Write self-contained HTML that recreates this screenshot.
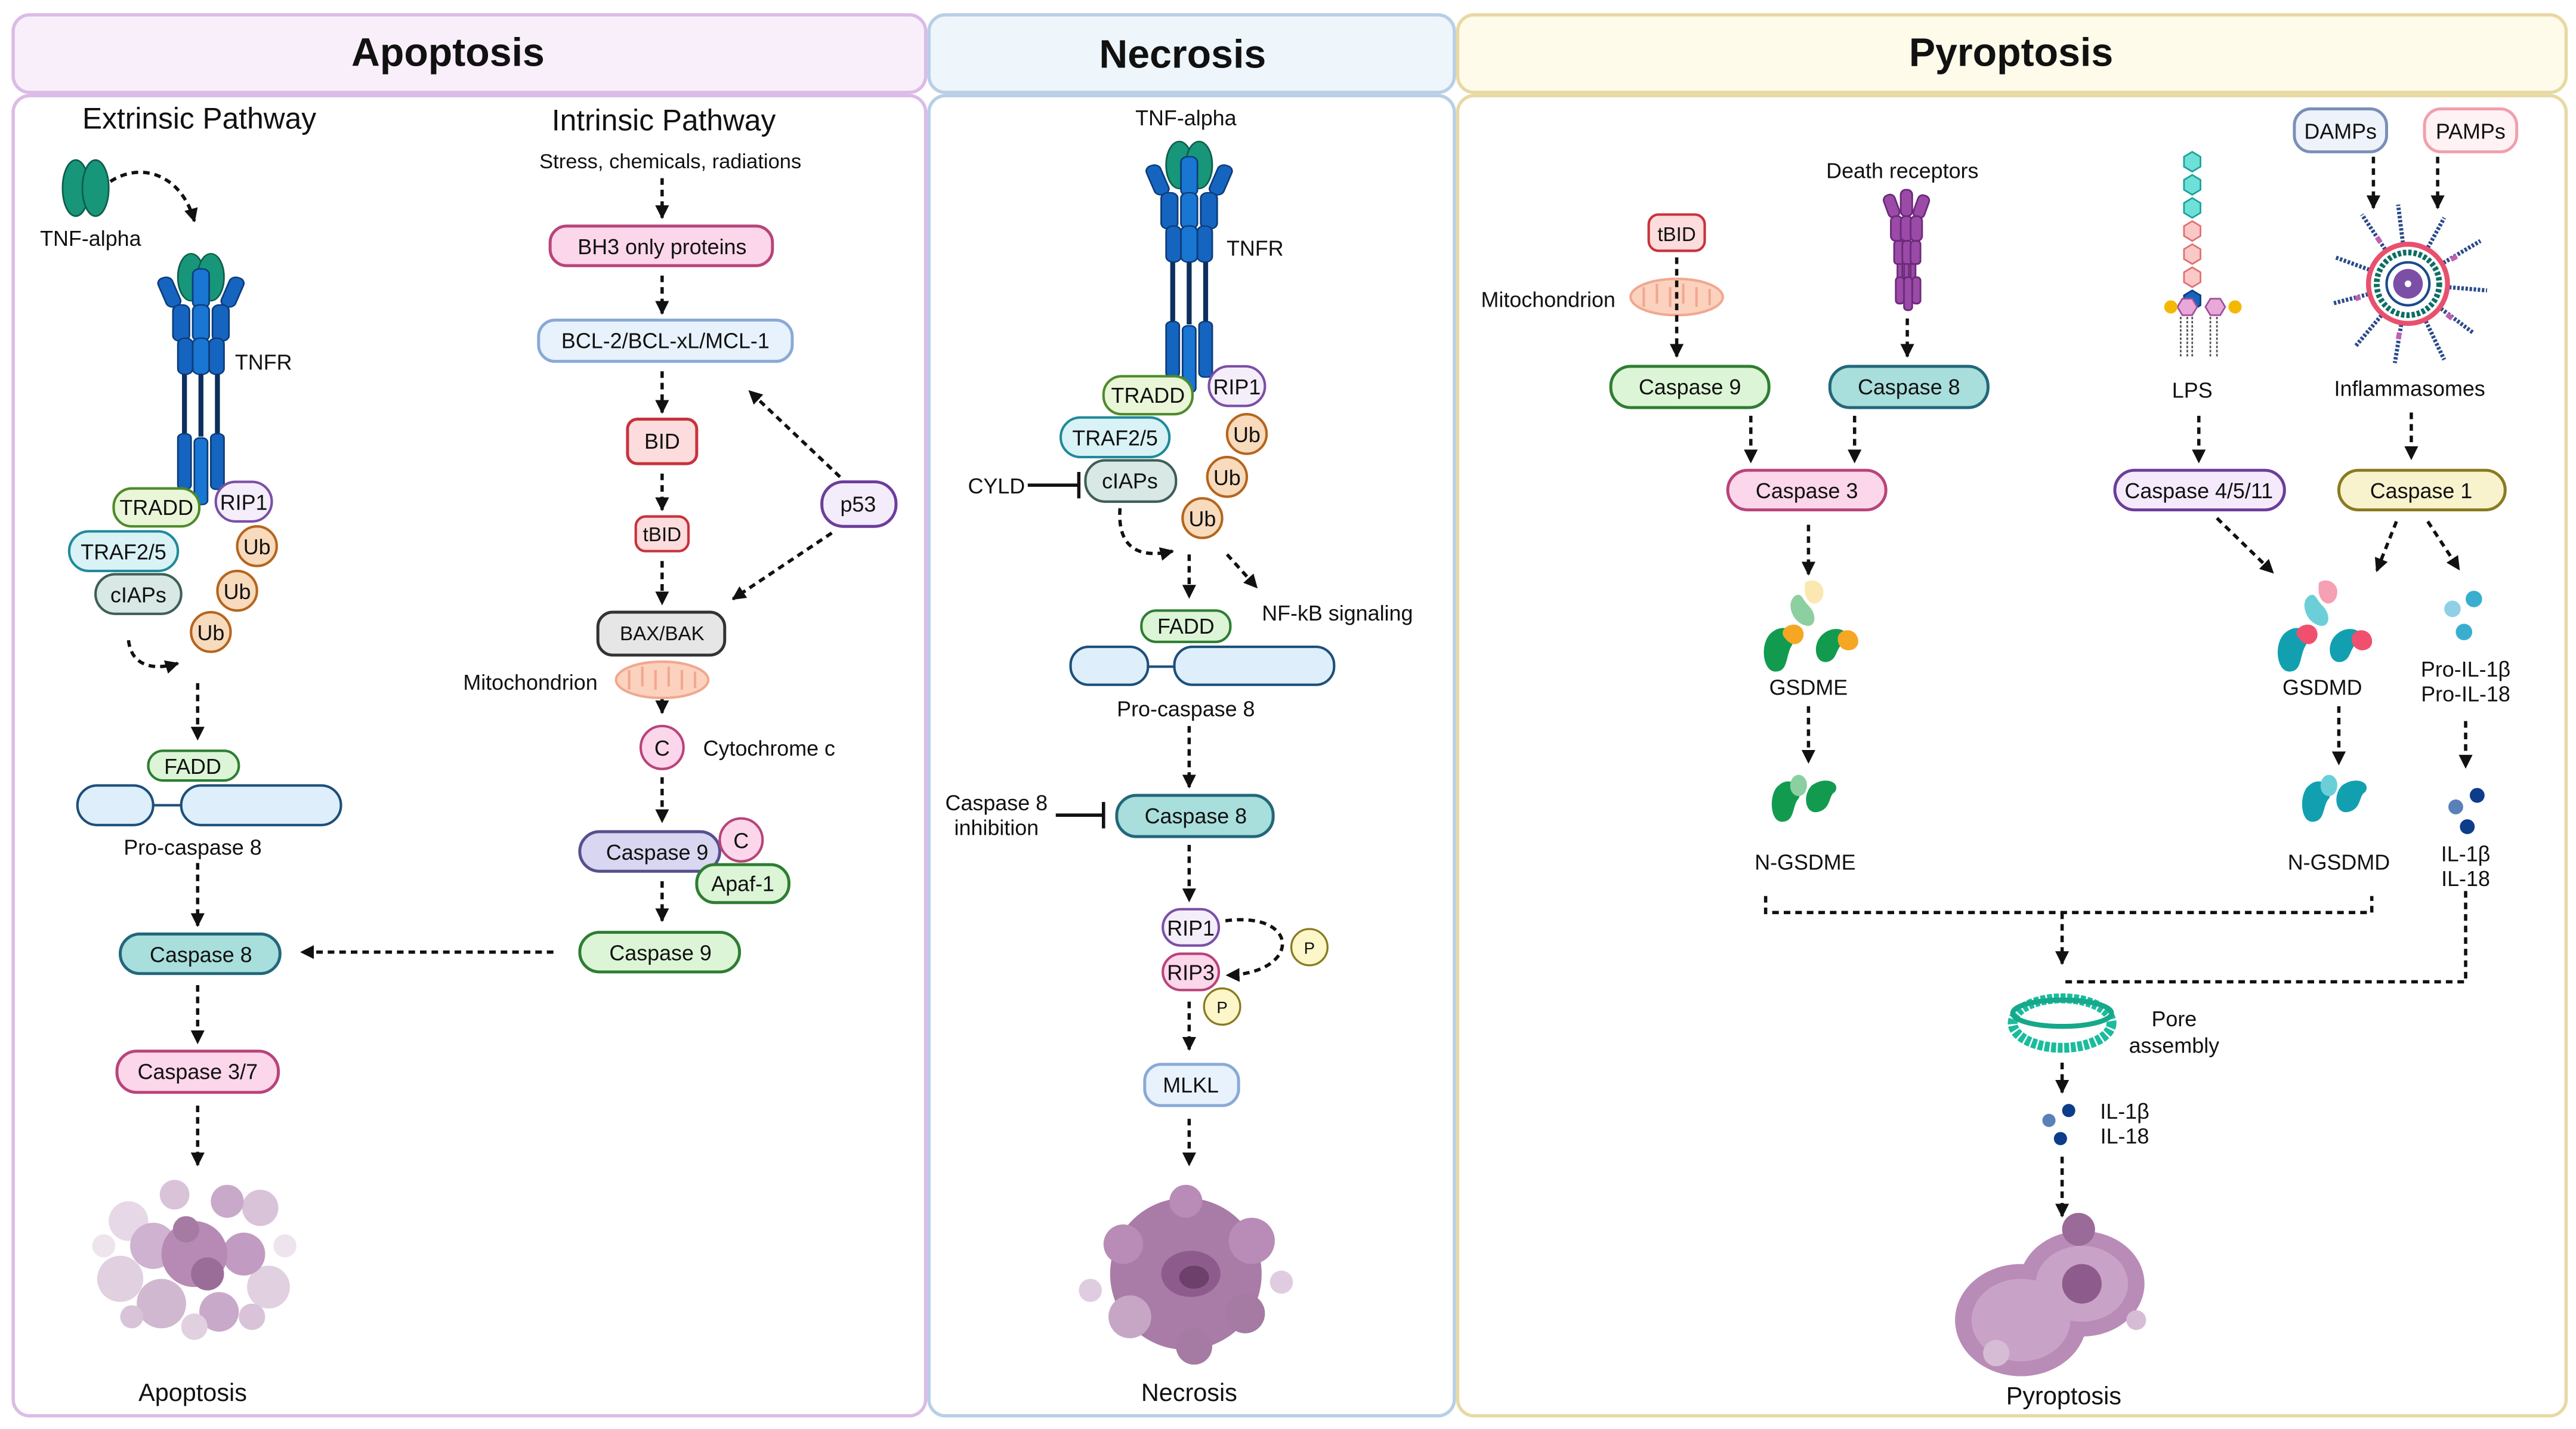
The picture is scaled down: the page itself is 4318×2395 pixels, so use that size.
<!DOCTYPE html>
<html><head><meta charset="utf-8"><style>
html,body{margin:0;padding:0;background:#fff;}
svg{display:block;}
text{font-family:"Liberation Sans",sans-serif;fill:#111;}
</style></head><body>
<svg width="4318" height="2395" viewBox="0 0 1564 866" preserveAspectRatio="none" xmlns="http://www.w3.org/2000/svg">
<defs>
<marker id="ah" viewBox="0 0 10 10" refX="9" refY="5" markerWidth="4.2" markerHeight="4.2" orient="auto"><path d="M0,0L10,5L0,10z" fill="#111"/></marker>
<g id="tnf">
<ellipse cx="-6" cy="0" rx="8" ry="17" fill="#17967a" stroke="#0d5e4c" stroke-width="1"/>
<ellipse cx="6" cy="0" rx="8" ry="17" fill="#17967a" stroke="#0d5e4c" stroke-width="1"/>
</g>
<g id="rec0">
<use href="#tnf" x="0" y="0"/>
<rect x="-24" y="0" width="9" height="22" rx="4" fill="#1565c0" stroke="#0d3c7a" transform="rotate(-20 -20 10)"/>
<rect x="15" y="0" width="9" height="22" rx="4" fill="#1565c0" stroke="#0d3c7a" transform="rotate(20 20 10)"/>
<rect x="-5" y="-6" width="10" height="28" rx="4" fill="#1976d2" stroke="#0d3c7a"/>
<rect x="-17" y="20" width="10" height="26" rx="4" fill="#1565c0" stroke="#0d3c7a"/>
<rect x="-5" y="20" width="10" height="26" rx="4" fill="#1976d2" stroke="#0d3c7a"/>
<rect x="7" y="20" width="10" height="26" rx="4" fill="#1565c0" stroke="#0d3c7a"/>
<rect x="-14" y="44" width="9" height="26" rx="4" fill="#1565c0" stroke="#0d3c7a"/>
<rect x="-5" y="44" width="10" height="26" rx="4" fill="#1976d2" stroke="#0d3c7a"/>
<rect x="5" y="44" width="9" height="26" rx="4" fill="#1565c0" stroke="#0d3c7a"/>
<line x1="-10" y1="70" x2="-10" y2="115" stroke="#0d2f5e" stroke-width="3"/>
<line x1="0" y1="70" x2="0" y2="115" stroke="#0d2f5e" stroke-width="3"/>
<line x1="10" y1="70" x2="10" y2="115" stroke="#0d2f5e" stroke-width="3"/>
<rect x="-14" y="113" width="8" height="40" rx="3" fill="#1565c0" stroke="#0d3c7a"/>
<rect x="-4" y="116" width="8" height="48" rx="3" fill="#1976d2" stroke="#0d3c7a"/>
<rect x="6" y="113" width="8" height="40" rx="3" fill="#1565c0" stroke="#0d3c7a"/>
</g>
<g id="rec"><use href="#rec0" transform="scale(1,0.84)"/></g>
<g id="mito">
<ellipse cx="0" cy="0" rx="28" ry="11" fill="#fcd2bf" stroke="#f0a890" stroke-width="1.5"/>
<path d="M-20,-6 v12 M-12,-8 v12 M-4,-6 v12 M4,-8 v12 M12,-6 v12 M20,-5 v10" stroke="#f0a890" stroke-width="1.5" fill="none"/>
</g>
</defs>

<!-- Panels -->
<rect x="8" y="9" width="554" height="47" rx="10" fill="#f9effb" stroke="#dcbbe7" stroke-width="2"/>
<rect x="8" y="58" width="554" height="800" rx="10" fill="#fff" stroke="#dcbbe7" stroke-width="2"/>
<rect x="564" y="9" width="319" height="47" rx="10" fill="#eef6fb" stroke="#b8cfe6" stroke-width="2"/>
<rect x="564" y="58" width="319" height="800" rx="10" fill="#fff" stroke="#b8cfe6" stroke-width="2"/>
<rect x="885" y="9" width="673" height="47" rx="10" fill="#fefbea" stroke="#e8d9a4" stroke-width="2"/>
<rect x="885" y="58" width="673" height="800" rx="10" fill="#fff" stroke="#e8d9a4" stroke-width="2"/>
<text x="272" y="40" font-size="24" font-weight="bold" text-anchor="middle">Apoptosis</text>
<text x="718" y="41" font-size="24" font-weight="bold" text-anchor="middle">Necrosis</text>
<text x="1221" y="40" font-size="24" font-weight="bold" text-anchor="middle">Pyroptosis</text>

<g font-size="13" text-anchor="middle">
<!-- ===== Apoptosis extrinsic ===== -->
<text x="121" y="78" font-size="18">Extrinsic Pathway</text>
<text x="403" y="79" font-size="18">Intrinsic Pathway</text>
<use href="#tnf" x="52" y="114"/>
<text x="55" y="149">TNF-alpha</text>
<path d="M67,110 C85,98 110,105 118,134" fill="none" stroke="#111" stroke-width="2" stroke-dasharray="4,3" marker-end="url(#ah)"/>
<use href="#rec" x="122" y="168"/>
<text x="160" y="224">TNFR</text>
<rect x="69" y="296" width="52" height="23" rx="11" fill="#e9f6d8" stroke="#4f8a2a" stroke-width="1.5"/><text x="95" y="312">TRADD</text>
<rect x="131" y="292" width="34" height="24" rx="12" fill="#f4eefb" stroke="#7b4fa6" stroke-width="1.5"/><text x="148" y="309">RIP1</text>
<rect x="42" y="322" width="66" height="24" rx="12" fill="#d9f2f6" stroke="#1f8a9a" stroke-width="1.5"/><text x="75" y="339">TRAF2/5</text>
<rect x="58" y="348" width="52" height="24" rx="12" fill="#d8e8e4" stroke="#3e5e58" stroke-width="1.5"/><text x="84" y="365">cIAPs</text>
<g fill="#f8dabd" stroke="#b5651d" stroke-width="1.5">
<circle cx="156" cy="331" r="12"/><circle cx="144" cy="358" r="12"/><circle cx="128" cy="383" r="12"/></g>
<text x="156" y="336">Ub</text><text x="144" y="363">Ub</text><text x="128" y="388">Ub</text>
<path d="M78,388 C80,405 95,406 108,402" fill="none" stroke="#111" stroke-width="2" stroke-dasharray="4,3" marker-end="url(#ah)"/>
<g stroke="#111" stroke-width="2" stroke-dasharray="4,3" marker-end="url(#ah)" fill="none">
<line x1="120" y1="414" x2="120" y2="448"/>
<line x1="120" y1="523" x2="120" y2="561"/>
<line x1="120" y1="597" x2="120" y2="632"/>
<line x1="120" y1="670" x2="120" y2="706"/>
<line x1="336" y1="577" x2="183" y2="577"/>
<line x1="402" y1="108" x2="402" y2="132"/>
<line x1="402" y1="167" x2="402" y2="190"/>
<line x1="402" y1="225" x2="402" y2="250"/>
<line x1="402" y1="287" x2="402" y2="309"/>
<line x1="402" y1="340" x2="402" y2="366"/>
<line x1="510" y1="289" x2="455" y2="237"/>
<line x1="505" y1="323" x2="445" y2="363"/>
<line x1="402" y1="402" x2="402" y2="432"/>
<line x1="402" y1="471" x2="402" y2="498"/>
<line x1="402" y1="534" x2="402" y2="558"/>
</g>
<rect x="90" y="455" width="55" height="18" rx="9" fill="#dcf5d6" stroke="#2e7d32" stroke-width="1.5"/><text x="117" y="469">FADD</text>
<rect x="47" y="476" width="46" height="24" rx="12" fill="#deeefa" stroke="#1d4f7a" stroke-width="1.5"/>
<line x1="93" y1="488" x2="110" y2="488" stroke="#1d4f7a" stroke-width="1.5"/>
<rect x="110" y="476" width="97" height="24" rx="12" fill="#deeefa" stroke="#1d4f7a" stroke-width="1.5"/>
<text x="117" y="518">Pro-caspase 8</text>
<rect x="73" y="566" width="97" height="24" rx="12" fill="#a8dedb" stroke="#22677a" stroke-width="1.8"/><text x="122" y="583">Caspase 8</text>
<rect x="71" y="637" width="98" height="25" rx="12" fill="#fcd6ea" stroke="#b8447a" stroke-width="1.8"/><text x="120" y="654">Caspase 3/7</text>
<!-- apoptotic blob: fragmented -->
<g transform="translate(118,760)">
<circle cx="-40" cy="-20" r="12" fill="#e6d8e6"/><circle cx="-45" cy="15" r="14" fill="#e0d0e0"/>
<circle cx="40" cy="-28" r="11" fill="#d9c3d9"/><circle cx="45" cy="20" r="13" fill="#e0d0e0"/>
<circle cx="-20" cy="30" r="15" fill="#d0b8d0"/><circle cx="15" cy="35" r="12" fill="#c9a9c9"/>
<circle cx="20" cy="-32" r="10" fill="#c9a9c9"/><circle cx="-12" cy="-36" r="9" fill="#d9c3d9"/>
<circle cx="30" cy="0" r="13" fill="#c19bc1"/><circle cx="-25" cy="-5" r="14" fill="#cfb2cf"/>
<circle cx="0" cy="0" r="20" fill="#b68ab4"/><circle cx="8" cy="12" r="10" fill="#9a6c98"/>
<circle cx="-5" cy="-15" r="8" fill="#a57aa3"/><circle cx="-55" cy="-5" r="7" fill="#eee4ee"/>
<circle cx="55" cy="-5" r="7" fill="#eee4ee"/><circle cx="0" cy="44" r="8" fill="#e0d0e0"/>
<circle cx="35" cy="38" r="8" fill="#d9c3d9"/><circle cx="-38" cy="38" r="7" fill="#d9c3d9"/>
</g>
<text x="117" y="849" font-size="15">Apoptosis</text>

<!-- intrinsic boxes -->
<text x="407" y="102" font-size="12.5">Stress, chemicals, radiations</text>
<rect x="334" y="137" width="135" height="24" rx="10" fill="#fcd6ea" stroke="#b8447a" stroke-width="1.8"/><text x="402" y="154">BH3 only proteins</text>
<rect x="327" y="194" width="154" height="25" rx="10" fill="#e8f2fc" stroke="#8aa9d6" stroke-width="1.8"/><text x="404" y="211">BCL-2/BCL-xL/MCL-1</text>
<rect x="381" y="254" width="42" height="27" rx="6" fill="#fcdcdc" stroke="#c8323c" stroke-width="1.8"/><text x="402" y="272">BID</text>
<rect x="386" y="313" width="32" height="21" rx="6" fill="#fcdcdc" stroke="#c8323c" stroke-width="1.5"/><text x="402" y="328" font-size="12">tBID</text>
<rect x="499" y="292" width="45" height="27" rx="13" fill="#f3ecfa" stroke="#6c3d9a" stroke-width="1.8"/><text x="521" y="310">p53</text>
<rect x="363" y="371" width="77" height="26" rx="9" fill="#e6e6e6" stroke="#333" stroke-width="1.8"/><text x="402" y="388" font-size="12">BAX/BAK</text>
<use href="#mito" x="402" y="412"/>
<text x="322" y="418">Mitochondrion</text>
<circle cx="402" cy="453" r="13" fill="#fcd6ea" stroke="#b8447a" stroke-width="1.5"/><text x="402" y="458">C</text>
<text x="467" y="458">Cytochrome c</text>
<rect x="352" y="504" width="85" height="24" rx="12" fill="#d8d6f0" stroke="#55508e" stroke-width="1.8"/><text x="399" y="521">Caspase 9</text>
<rect x="423" y="524" width="56" height="23" rx="11" fill="#dcf5d6" stroke="#2e7d32" stroke-width="1.8"/><text x="451" y="540">Apaf-1</text>
<circle cx="450" cy="509" r="13" fill="#fcd6ea" stroke="#b8447a" stroke-width="1.5"/><text x="450" y="514">C</text>
<rect x="352" y="565" width="97" height="24" rx="12" fill="#dcf5d6" stroke="#2e7d32" stroke-width="1.8"/><text x="401" y="582">Caspase 9</text>

<!-- ===== Necrosis ===== -->
<text x="720" y="76">TNF-alpha</text>
<use href="#rec" x="722" y="100"/>
<text x="762" y="155">TNFR</text>
<rect x="670" y="228" width="54" height="23" rx="11" fill="#e9f6d8" stroke="#4f8a2a" stroke-width="1.5"/><text x="697" y="244">TRADD</text>
<rect x="734" y="222" width="34" height="24" rx="12" fill="#f4eefb" stroke="#7b4fa6" stroke-width="1.5"/><text x="751" y="239">RIP1</text>
<rect x="644" y="253" width="66" height="24" rx="12" fill="#d9f2f6" stroke="#1f8a9a" stroke-width="1.5"/><text x="677" y="270">TRAF2/5</text>
<rect x="659" y="279" width="55" height="25" rx="12" fill="#d8e8e4" stroke="#3e5e58" stroke-width="1.5"/><text x="686" y="296">cIAPs</text>
<g fill="#f8dabd" stroke="#b5651d" stroke-width="1.5">
<circle cx="757" cy="263" r="12"/><circle cx="745" cy="289" r="12"/><circle cx="730" cy="314" r="12"/></g>
<text x="757" y="268">Ub</text><text x="745" y="294">Ub</text><text x="730" y="319">Ub</text>
<text x="605" y="299">CYLD</text>
<line x1="624" y1="294" x2="655" y2="294" stroke="#111" stroke-width="2"/><line x1="655" y1="286" x2="655" y2="302" stroke="#111" stroke-width="2"/>
<g stroke="#111" stroke-width="2" stroke-dasharray="4,3" marker-end="url(#ah)" fill="none">
<path d="M680,308 C678,335 695,338 712,334"/>
<line x1="722" y1="336" x2="722" y2="362"/>
<line x1="745" y1="336" x2="763" y2="356"/>
<line x1="722" y1="440" x2="722" y2="477"/>
<line x1="722" y1="512" x2="722" y2="546"/>
<path d="M744,558 C790,552 790,590 745,591"/>
<line x1="722" y1="607" x2="722" y2="636"/>
<line x1="722" y1="678" x2="722" y2="706"/>
</g>
<text x="812" y="376">NF-kB signaling</text>
<rect x="693" y="370" width="54" height="19" rx="9" fill="#dcf5d6" stroke="#2e7d32" stroke-width="1.5"/><text x="720" y="384">FADD</text>
<rect x="650" y="392" width="47" height="23" rx="11" fill="#deeefa" stroke="#1d4f7a" stroke-width="1.5"/>
<line x1="697" y1="404" x2="713" y2="404" stroke="#1d4f7a" stroke-width="1.5"/>
<rect x="713" y="392" width="97" height="23" rx="11" fill="#deeefa" stroke="#1d4f7a" stroke-width="1.5"/>
<text x="720" y="434">Pro-caspase 8</text>
<text x="605" y="491">Caspase 8</text><text x="605" y="506">inhibition</text>
<line x1="641" y1="494" x2="670" y2="494" stroke="#111" stroke-width="2"/><line x1="670" y1="486" x2="670" y2="502" stroke="#111" stroke-width="2"/>
<rect x="678" y="482" width="95" height="25" rx="12" fill="#a8dedb" stroke="#22677a" stroke-width="1.8"/><text x="726" y="499">Caspase 8</text>
<rect x="706" y="551" width="34" height="22" rx="11" fill="#f4eefb" stroke="#7b4fa6" stroke-width="1.5"/><text x="723" y="567">RIP1</text>
<rect x="706" y="578" width="34" height="22" rx="11" fill="#fcd6ea" stroke="#b8447a" stroke-width="1.5"/><text x="723" y="594">RIP3</text>
<circle cx="795" cy="574" r="11" fill="#fcf6c8" stroke="#8a7a20" stroke-width="1.2"/><text x="795" y="578" font-size="10">P</text>
<circle cx="742" cy="610" r="11" fill="#fcf6c8" stroke="#8a7a20" stroke-width="1.2"/><text x="742" y="614" font-size="10">P</text>
<rect x="695" y="645" width="57" height="25" rx="10" fill="#e8f2fc" stroke="#8aa9d6" stroke-width="1.8"/><text x="723" y="662">MLKL</text>
<g transform="translate(720,772)">
<circle cx="0" cy="0" r="46" fill="#a97ba7"/>
<circle cx="-38" cy="-18" r="12" fill="#b98bb7"/><circle cx="40" cy="-20" r="14" fill="#b98bb7"/>
<circle cx="36" cy="24" r="12" fill="#a57aa3"/><circle cx="-34" cy="26" r="13" fill="#c7a6c5"/>
<circle cx="0" cy="-44" r="10" fill="#b98bb7"/><circle cx="5" cy="44" r="11" fill="#a57aa3"/>
<circle cx="-58" cy="10" r="7" fill="#e0cce0"/><circle cx="58" cy="5" r="7" fill="#e0cce0"/>
<ellipse cx="3" cy="0" rx="18" ry="14" fill="#8e5c8c"/>
<ellipse cx="5" cy="2" rx="9" ry="7" fill="#6d3f6b"/>
</g>
<text x="722" y="849" font-size="15">Necrosis</text>

<!-- ===== Pyroptosis ===== -->
<rect x="1001" y="130" width="34" height="22" rx="6" fill="#fcdcdc" stroke="#c8323c" stroke-width="1.5"/><text x="1018" y="146" font-size="12">tBID</text>
<use href="#mito" x="1018" y="180"/>
<text x="940" y="186">Mitochondrion</text>
<text x="1155" y="108">Death receptors</text>
<g fill="#9b4aa8" stroke="#6a2a78" stroke-width="1">
<rect x="1154" y="115" width="7" height="16" rx="3"/><rect x="1145" y="118" width="7" height="14" rx="3" transform="rotate(-20 1148 125)"/><rect x="1163" y="118" width="7" height="14" rx="3" transform="rotate(20 1166 125)"/>
<rect x="1148" y="131" width="7" height="15" rx="3"/><rect x="1154" y="131" width="7" height="15" rx="3"/><rect x="1160" y="131" width="7" height="15" rx="3"/>
<rect x="1150" y="146" width="6" height="14" rx="2"/><rect x="1155" y="146" width="6" height="14" rx="2"/><rect x="1160" y="146" width="6" height="14" rx="2"/>
<rect x="1152" y="160" width="3" height="10"/><rect x="1156" y="160" width="3" height="10"/><rect x="1160" y="160" width="3" height="10"/>
<rect x="1151" y="168" width="5" height="16" rx="2"/><rect x="1156" y="168" width="5" height="20" rx="2"/><rect x="1161" y="168" width="5" height="16" rx="2"/>
</g>
<g stroke="#111" stroke-width="2" stroke-dasharray="4,3" marker-end="url(#ah)" fill="none">
<line x1="1018" y1="156" x2="1018" y2="216"/>
<line x1="1158" y1="193" x2="1158" y2="216"/>
<line x1="1063" y1="252" x2="1063" y2="280"/>
<line x1="1126" y1="252" x2="1126" y2="280"/>
<line x1="1098" y1="318" x2="1098" y2="348"/>
<line x1="1098" y1="428" x2="1098" y2="462"/>
<line x1="1335" y1="252" x2="1335" y2="280"/>
<line x1="1441" y1="95" x2="1441" y2="126"/>
<line x1="1480" y1="95" x2="1480" y2="126"/>
<line x1="1464" y1="250" x2="1464" y2="278"/>
<line x1="1346" y1="314" x2="1380" y2="347"/>
<line x1="1455" y1="316" x2="1443" y2="346"/>
<line x1="1474" y1="316" x2="1493" y2="345"/>
<line x1="1420" y1="428" x2="1420" y2="463"/>
<line x1="1497" y1="437" x2="1497" y2="465"/>
<line x1="1252" y1="553" x2="1252" y2="584"/>
<line x1="1252" y1="644" x2="1252" y2="662"/>
<line x1="1252" y1="701" x2="1252" y2="737"/>
</g>
<path d="M1072,543 V553 H1440 V543 M1497,540 V595 H1252" fill="none" stroke="#111" stroke-width="2" stroke-dasharray="4,3"/>
<rect x="978" y="222" width="96" height="25" rx="12" fill="#dcf5d6" stroke="#2e7d32" stroke-width="1.8"/><text x="1026" y="239">Caspase 9</text>
<rect x="1111" y="222" width="96" height="25" rx="12" fill="#a8dedb" stroke="#22677a" stroke-width="1.8"/><text x="1159" y="239">Caspase 8</text>
<rect x="1049" y="285" width="96" height="24" rx="12" fill="#fcd6ea" stroke="#b8447a" stroke-width="1.8"/><text x="1097" y="302">Caspase 3</text>
<g transform="translate(1098,385)">
<path d="M-22,-2 c-8,6 -6,24 2,24 c8,0 6,-10 10,-16 c4,-8 -4,-14 -12,-8z" fill="#129b4f"/>
<path d="M-14,2 c-6,-6 6,-12 10,-6 c4,6 -4,14 -10,6z" fill="#f5a623"/>
<path d="M8,0 c-6,6 -4,18 4,16 c6,-2 4,-8 10,-12 c6,-6 -6,-12 -14,-4z" fill="#129b4f"/>
<path d="M18,4 c-2,-8 10,-10 12,-2 c2,8 -10,10 -12,2z" fill="#f5a623"/>
<path d="M-8,-24 c-6,4 -2,16 6,18 c6,2 8,-6 2,-12 c-4,-4 -4,-8 -8,-6z" fill="#8ccfa0"/>
<path d="M-2,-32 c6,-4 14,2 10,10 c-4,6 -12,2 -10,-10z" fill="#fbe8b0"/>
</g>
<text x="1098" y="421" fill="#333">GSDME</text>
<path d="M1080,476 c-6,4 -6,22 2,22 c8,0 6,-10 10,-14 c4,-8 -6,-14 -12,-8z M1100,476 c-6,6 -4,18 4,16 c8,-2 6,-10 10,-12 c4,-6 -6,-10 -14,-4z" fill="#129b4f"/>
<path d="M1088,472 c4,-6 12,0 8,8 c-4,6 -12,0 -8,-8z" fill="#8ccfa0"/>
<text x="1096" y="527" fill="#333">N-GSDME</text>
<!-- LPS -->
<g stroke-width="1">
<polygon points="1331,92 1336,95 1336,101 1331,104 1326,101 1326,95" fill="#6fe0d8" stroke="#1aa39a"/>
<polygon points="1331,106 1336,109 1336,115 1331,118 1326,115 1326,109" fill="#6fe0d8" stroke="#1aa39a"/>
<polygon points="1331,120 1336,123 1336,129 1331,132 1326,129 1326,123" fill="#6fe0d8" stroke="#1aa39a"/>
<polygon points="1331,134 1336,137 1336,143 1331,146 1326,143 1326,137" fill="#fbc8c8" stroke="#e07070"/>
<polygon points="1331,148 1336,151 1336,157 1331,160 1326,157 1326,151" fill="#fbc8c8" stroke="#e07070"/>
<polygon points="1331,162 1336,165 1336,171 1331,174 1326,171 1326,165" fill="#fbc8c8" stroke="#e07070"/>
<polygon points="1331,166 1336,169 1336,175 1331,178 1326,175 1326,169" fill="#1565c0" stroke="#0d3c7a" transform="translate(0,10)"/>
<polygon points="1325,181 1331,181 1334,186 1331,191 1325,191 1322,186" fill="#e8a8d8" stroke="#a0509a"/>
<polygon points="1342,181 1348,181 1351,186 1348,191 1342,191 1339,186" fill="#e8a8d8" stroke="#a0509a"/>
<circle cx="1318" cy="186" r="4" fill="#f5b800"/><circle cx="1357" cy="186" r="4" fill="#f5b800"/>
<path d="M1324,192 v24 M1328,192 v24 M1331,192 v24 M1342,192 v24 M1346,192 v24" stroke="#555" stroke-dasharray="1.5,1" fill="none"/>
</g>
<text x="1331" y="241">LPS</text>
<rect x="1393" y="66" width="56" height="26" rx="10" fill="#eef2fa" stroke="#7a8fb8" stroke-width="1.8"/><text x="1421" y="84">DAMPs</text>
<rect x="1472" y="66" width="56" height="26" rx="10" fill="#fff2f4" stroke="#f0a0ac" stroke-width="1.8"/><text x="1500" y="84">PAMPs</text>
<g transform="translate(1462,172)">
<g stroke="#2a4a8a" stroke-width="2.5" stroke-dasharray="1.5,1">
<line x1="0" y1="0" x2="-28" y2="-42"/><line x1="0" y1="0" x2="-6" y2="-48"/><line x1="0" y1="0" x2="22" y2="-40"/>
<line x1="0" y1="0" x2="44" y2="-26"/><line x1="0" y1="0" x2="48" y2="4"/><line x1="0" y1="0" x2="40" y2="30"/>
<line x1="0" y1="0" x2="22" y2="46"/><line x1="0" y1="0" x2="-8" y2="48"/><line x1="0" y1="0" x2="-32" y2="38"/>
<line x1="0" y1="0" x2="-46" y2="12"/><line x1="0" y1="0" x2="-44" y2="-16"/>
</g>
<g stroke="#c060b0" stroke-width="3" stroke-dasharray="4,6">
<line x1="0" y1="0" x2="-20" y2="-30"/><line x1="0" y1="0" x2="32" y2="-18"/><line x1="0" y1="0" x2="28" y2="22"/>
<line x1="0" y1="0" x2="-6" y2="34"/><line x1="0" y1="0" x2="-32" y2="9"/>
</g>
<circle r="24" fill="#fff" stroke="#e8506e" stroke-width="3"/>
<circle r="19" fill="none" stroke="#0d6e62" stroke-width="3.5" stroke-dasharray="2,1.2"/>
<circle r="13" fill="#fff" stroke="#1a4a8a" stroke-width="1.5"/>
<circle r="9" fill="#7b4fa6"/><circle r="2" fill="#fff"/>
</g>
<text x="1463" y="240" fill="#333">Inflammasomes</text>
<rect x="1284" y="285" width="103" height="24" rx="12" fill="#f4eafb" stroke="#6c3d9a" stroke-width="1.8"/><text x="1335" y="302">Caspase 4/5/11</text>
<rect x="1420" y="285" width="101" height="24" rx="12" fill="#f8f3cc" stroke="#8a7a20" stroke-width="1.8"/><text x="1470" y="302">Caspase 1</text>
<g transform="translate(1410,385)">
<path d="M-22,-2 c-8,6 -6,24 2,24 c8,0 6,-10 10,-16 c4,-8 -4,-14 -12,-8z" fill="#12a0b0"/>
<path d="M-14,2 c-6,-6 6,-12 10,-6 c4,6 -4,14 -10,6z" fill="#f0506e"/>
<path d="M8,0 c-6,6 -4,18 4,16 c6,-2 4,-8 10,-12 c6,-6 -6,-12 -14,-4z" fill="#12a0b0"/>
<path d="M18,4 c-2,-8 10,-10 12,-2 c2,8 -10,10 -12,2z" fill="#f0506e"/>
<path d="M-8,-24 c-6,4 -2,16 6,18 c6,2 8,-6 2,-12 c-4,-4 -4,-8 -8,-6z" fill="#6ccfd8"/>
<path d="M-2,-32 c6,-4 14,2 10,10 c-4,6 -12,2 -10,-10z" fill="#f6a0b4"/>
</g>
<text x="1410" y="421" fill="#333">GSDMD</text>
<path d="M1402,476 c-6,4 -6,22 2,22 c8,0 6,-10 10,-14 c4,-8 -6,-14 -12,-8z M1422,476 c-6,6 -4,18 4,16 c8,-2 6,-10 10,-12 c4,-6 -6,-10 -14,-4z" fill="#12a0b0"/>
<path d="M1410,472 c4,-6 12,0 8,8 c-4,6 -12,0 -8,-8z" fill="#6ccfd8"/>
<text x="1420" y="527" fill="#333">N-GSDMD</text>
<circle cx="1502" cy="363" r="5" fill="#3aaed0"/><circle cx="1489" cy="369" r="5" fill="#8fd0e6"/><circle cx="1496" cy="383" r="5" fill="#3aaed0"/>
<text x="1497" y="410" fill="#333">Pro-IL-1β</text><text x="1497" y="425" fill="#333">Pro-IL-18</text>
<circle cx="1504" cy="482" r="4.5" fill="#0d3c8a"/><circle cx="1491" cy="489" r="4.5" fill="#5a80b8"/><circle cx="1498" cy="501" r="4.5" fill="#0d3c8a"/>
<text x="1497" y="522" fill="#333">IL-1β</text><text x="1497" y="537" fill="#333">IL-18</text>
<ellipse cx="1252" cy="620" rx="30" ry="15" fill="none" stroke="#1abc9c" stroke-width="6" stroke-dasharray="3,1"/>
<ellipse cx="1252" cy="614" rx="30" ry="8" fill="none" stroke="#16a88a" stroke-width="3"/>
<text x="1320" y="622" fill="#333">Pore</text><text x="1320" y="638" fill="#333">assembly</text>
<circle cx="1256" cy="673" r="4" fill="#0d3c8a"/><circle cx="1244" cy="679" r="4" fill="#5a80b8"/><circle cx="1251" cy="690" r="4" fill="#0d3c8a"/>
<text x="1290" y="678" fill="#333">IL-1β</text><text x="1290" y="693" fill="#333">IL-18</text>
<g transform="translate(1252,790)">
<ellipse cx="-25" cy="10" rx="40" ry="34" fill="#b98bb7"/>
<ellipse cx="12" cy="-12" rx="38" ry="32" fill="#b98bb7"/>
<ellipse cx="-25" cy="10" rx="30" ry="25" fill="#c9a3c7"/>
<ellipse cx="12" cy="-12" rx="28" ry="23" fill="#c9a3c7"/>
<circle cx="10" cy="-45" r="10" fill="#9a6a98"/>
<ellipse cx="12" cy="-12" rx="12" ry="12" fill="#8e5c8c"/>
<circle cx="-40" cy="30" r="8" fill="#d6bcd5"/><circle cx="45" cy="10" r="6" fill="#d6bcd5"/>
</g>
<text x="1253" y="851" font-size="15" fill="#333">Pyroptosis</text>
</g>
</svg>
</body></html>
